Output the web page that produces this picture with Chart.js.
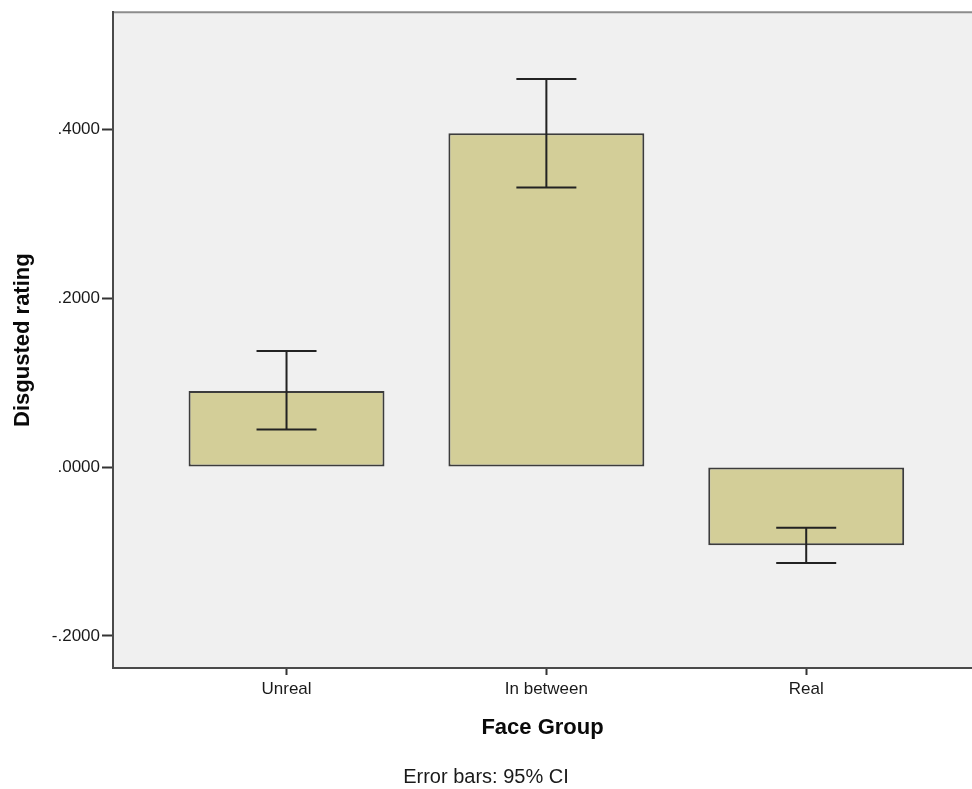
<!DOCTYPE html>
<html>
<head>
<meta charset="utf-8">
<script src="https://cdn.jsdelivr.net/npm/chart.js@4/dist/chart.umd.min.js"></script>
<style>
  html, body { margin: 0; padding: 0; background: #ffffff; }
  #wrap { width: 972px; height: 789px; position: relative; }
</style>
</head>
<body>
<div id="wrap"><canvas id="c"></canvas></div>
<script>
// Face groups and mean disgusted rating with 95% CI bounds
const categories = ['Unreal', 'In between', 'Real'];
const meanRating = [0.0903, 0.3957, -0.0927];
const ciLower = [0.0446, 0.3312, -0.1136];
const ciUpper = [0.1375, 0.4599, -0.0718];
const yTickValues = [-0.2, 0.0, 0.2, 0.4];

const positions = categories.map((c, i) => i + 1);

function fmtTick(v) {
  const s = Math.abs(v).toFixed(4).replace(/^0/, '');
  return (v < -1e-9 ? '-' : '') + s;
}

// Plot background, top frame line and the CI whiskers
const framePlugin = {
  id: 'frame',
  beforeDraw(chart) {
    const { ctx, chartArea: a } = chart;
    ctx.save();
    ctx.fillStyle = '#f0f0f0';
    ctx.fillRect(a.left, a.top, a.right - a.left, a.bottom - a.top);
    ctx.strokeStyle = '#8c8c8c';
    ctx.lineWidth = 2;
    ctx.beginPath();
    ctx.moveTo(a.left, a.top);
    ctx.lineTo(a.right, a.top);
    ctx.stroke();
    ctx.restore();
  },
  afterDatasetsDraw(chart) {
    const { ctx, scales: { x, y } } = chart;
    ctx.save();
    ctx.strokeStyle = '#222222';
    ctx.lineWidth = 2;
    positions.forEach((p, i) => {
      const cx = x.getPixelForValue(p);
      const lo = y.getPixelForValue(ciLower[i]);
      const hi = y.getPixelForValue(ciUpper[i]);
      const half = 30;
      ctx.beginPath();
      ctx.moveTo(cx, lo); ctx.lineTo(cx, hi);
      ctx.moveTo(cx - half, hi); ctx.lineTo(cx + half, hi);
      ctx.moveTo(cx - half, lo); ctx.lineTo(cx + half, lo);
      ctx.stroke();
    });
    ctx.restore();
  }
};

new Chart(document.getElementById('c'), {
  type: 'bar',
  data: {
    datasets: [{
      data: positions.map((p, i) => ({ x: p, y: meanRating[i] })),
      backgroundColor: '#d3ce98',
      borderColor: '#3c3c3c',
      borderWidth: 2,
      borderSkipped: false,
      categoryPercentage: 1,
      barPercentage: 0.754
    }]
  },
  options: {
    responsive: true,
    maintainAspectRatio: false,
    animation: false,
    layout: { padding: { top: 10, right: 0, left: 0, bottom: 0 } },
    plugins: {
      legend: { display: false },
      tooltip: { enabled: false },
      title: {
        display: true,
        position: 'bottom',
        text: 'Error bars: 95% CI',
        color: '#1a1a1a',
        font: { family: 'Liberation Sans', size: 20, weight: 'normal', lineHeight: 1.2 },
        padding: { top: 0, bottom: 0 }
      }
    },
    scales: {
      x: {
        type: 'linear',
        offset: false,
        min: 0.3322,
        max: 3.638,
        afterBuildTicks(scale) { scale.ticks = positions.map(v => ({ value: v })); },
        afterFit(scale) { scale.height = 97; },
        ticks: {
          autoSkip: false,
          maxRotation: 0,
          padding: 4,
          color: '#1a1a1a',
          font: { family: 'Liberation Sans', size: 17 },
          callback: (v) => categories[Math.round(v) - 1] || ''
        },
        grid: { offset: false, drawOnChartArea: false, drawTicks: true, tickLength: 7, tickColor: '#333', tickWidth: 2 },
        border: { display: true, color: '#4a4a4a', width: 2 },
        title: {
          display: true,
          text: 'Face Group',
          color: '#0a0a0a',
          font: { family: 'Liberation Sans', size: 22, weight: 'bold', lineHeight: 1.2 },
          padding: { top: 0, bottom: 24 }
        }
      },
      y: {
        type: 'linear',
        min: -0.238,
        max: 0.539,
        afterBuildTicks(scale) { scale.ticks = yTickValues.map(v => ({ value: v })); },
        afterFit(scale) { scale.width = 113; },
        ticks: {
          padding: 2,
          color: '#1a1a1a',
          font: { family: 'Liberation Sans', size: 17 },
          callback: (v) => fmtTick(v)
        },
        grid: { drawOnChartArea: false, drawTicks: true, tickLength: 11, tickColor: '#333', tickWidth: 2 },
        border: { display: true, color: '#4a4a4a', width: 2 },
        title: {
          display: true,
          text: 'Disgusted rating',
          color: '#0a0a0a',
          font: { family: 'Liberation Sans', size: 22, weight: 'bold', lineHeight: 1.2 },
          padding: { top: 10, bottom: 0 }
        }
      }
    }
  },
  plugins: [framePlugin]
});
</script>
</body>
</html>
